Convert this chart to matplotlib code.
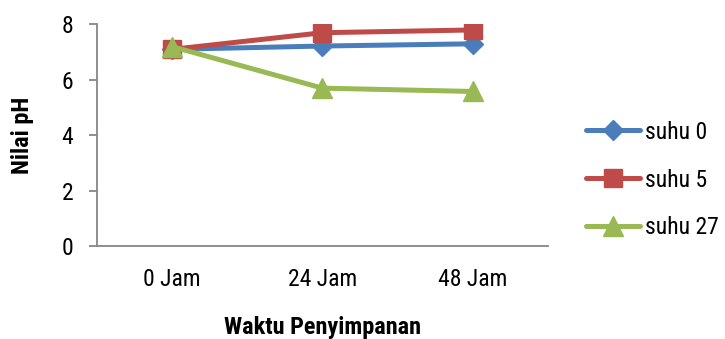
import matplotlib
matplotlib.use("Agg")
import matplotlib.pyplot as plt
from matplotlib import font_manager

# Storage time categories and pH readings per temperature
categories = ["0 Jam", "24 Jam", "48 Jam"]
suhu_0 = [7.1, 7.22, 7.3]
suhu_5 = [7.1, 7.7, 7.8]
suhu_27 = [7.2, 5.7, 5.58]
series_labels = ["suhu 0", "suhu 5", "suhu 27"]
y_ticks = [0, 2, 4, 6, 8]

# Prefer an Arial-Narrow-like face
names = {f.name for f in font_manager.fontManager.ttflist}
preferred = ["Liberation Sans Narrow", "Arial Narrow", "Nimbus Sans Narrow",
             "Roboto Condensed", "Archivo Narrow", "Liberation Sans"]
family = [n for n in preferred if n in names][:1]
plt.rcParams["font.family"] = family + ["DejaVu Sans"]

fig = plt.figure(figsize=(7.25, 3.39), dpi=100)
ax = fig.add_axes([0.1334, 0.274, 0.6226, 0.654])

x = list(range(len(categories)))
ax.plot(x, suhu_0, color="#4a7ebb", lw=3.6, marker="D", ms=10,
        solid_capstyle="round", label=series_labels[0], zorder=3)
ax.plot(x, suhu_5, color="#be4b48", lw=3.6, marker="s", ms=13,
        solid_capstyle="round", label=series_labels[1], zorder=4)
ax.plot(x, suhu_27, color="#98b954", lw=3.6, marker="^", ms=14,
        solid_capstyle="round", label=series_labels[2], zorder=5)

ax.set_xlim(-0.5, len(categories) - 0.5)
ax.set_ylim(0, 8)
ax.set_yticks(y_ticks)
ax.set_xticks(x)
ax.set_xticklabels(categories)

for side in ("top", "right"):
    ax.spines[side].set_visible(False)
for side in ("left", "bottom"):
    ax.spines[side].set_color("#868686")
    ax.spines[side].set_linewidth(1.3)
ax.tick_params(axis="y", length=6, width=1.3, color="#868686",
               labelsize=17, pad=11)
ax.tick_params(axis="x", length=0, labelsize=17, pad=16)

ax.set_ylabel("Nilai pH", fontsize=17.5, fontweight="bold", labelpad=20)
ax.set_xlabel("Waktu Penyimpanan", fontsize=17.5, fontweight="bold", labelpad=18)

ax.legend(loc="center left", bbox_to_anchor=(0.808, 0.469),
          bbox_transform=fig.transFigure, frameon=False,
          fontsize=17, handlelength=2.3, handletextpad=0.2,
          labelspacing=1.05, borderpad=0, borderaxespad=0)

fig.savefig("out.png", dpi=100)
